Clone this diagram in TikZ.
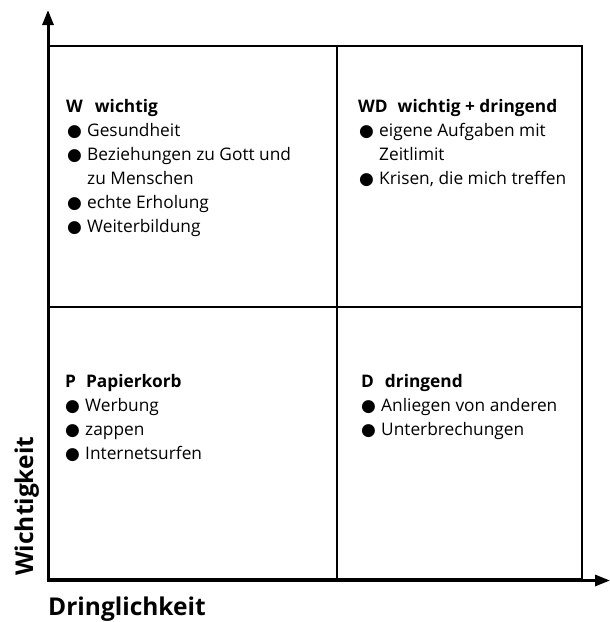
\documentclass[tikz,border=0pt]{standalone}
\usepackage{fontspec}
\setmainfont{Open Sans}
\newfontfamily\bulf{DejaVu Sans}
\usetikzlibrary{arrows.meta}
\newcommand{\bt}{\makebox[20pt][l]{\bulf\fontsize{17}{17}\selectfont ●}}
\tikzset{
  txt/.style={anchor=base west, inner sep=0pt, font=\fontsize{17.3}{19}\selectfont},
  head/.style={txt, font=\fontsize{17.3}{19}\selectfont\bfseries},
  axislabel/.style={inner sep=0pt, font=\fontsize{24.5}{30}\selectfont\bfseries},
  axisline/.style={line width=3pt, -{Triangle[length=15pt,width=11pt]}},
  gridline/.style={line width=1.3pt}
}
\begin{document}
\begin{tikzpicture}[x=1pt,y=-1pt]
\useasboundingbox (0,0) rectangle (610,622);
% frame and quadrants
\draw[gridline] (49,46) rectangle (582,579);
\draw[gridline] (337,46) -- (337,579);
\draw[gridline] (49,307) -- (582,307);
% axes
\coordinate (O) at (48,580.5);
\coordinate (ytip) at (48,10);
\coordinate (xstart) at (46.5,580.5);
\coordinate (xtip) at (610,580.5);
\draw[axisline] (O) -- (ytip);
\draw[axisline] (xstart) -- (xtip);
% axis labels
\node[axislabel, anchor=base west] (dl) at (48,615) {Dringlichkeit};
\node[axislabel, anchor=base west, rotate=90] (wl) at (33,576) {Wichtigkeit};
% W quadrant
\node[head] (w0) at (66,112) {W\hspace{12pt}wichtig};
\node[txt] (w1) at (67,136) {\bt Gesundheit};
\node[txt] (w2) at (67,160) {\bt Beziehungen zu Gott und};
\node[txt] (w3) at (67,184) {\hspace*{20pt}zu Menschen};
\node[txt] (w4) at (67,208) {\bt echte Erholung};
\node[txt] (w5) at (67,232) {\bt Weiterbildung};
% WD quadrant
\node[head] (wd0) at (358,112) {WD\hspace{10pt}wichtig + dringend};
\node[txt] (wd1) at (359,136) {\bt eigene Aufgaben mit};
\node[txt] (wd2) at (359,160) {\hspace*{20pt}Zeitlimit};
\node[txt] (wd3) at (359,184) {\bt Krisen, die mich treffen};
% P quadrant
\node[head] (p0) at (65,387) {P\hspace{10pt}Papierkorb};
\node[txt] (p1) at (65,411) {\bt Werbung};
\node[txt] (p2) at (65,435) {\bt zappen};
\node[txt] (p3) at (65,459) {\bt Internetsurfen};
% D quadrant
\node[head] (d0) at (361,387) {D\hspace{11pt}dringend};
\node[txt] (d1) at (361,411) {\bt Anliegen von anderen};
\node[txt] (d2) at (361,435) {\bt Unterbrechungen};
\end{tikzpicture}
\end{document}
